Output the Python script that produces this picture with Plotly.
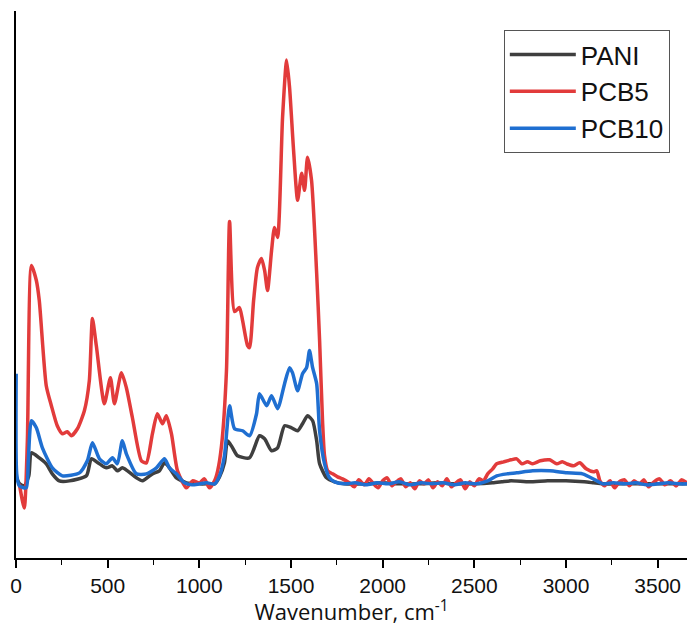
import plotly.graph_objects as go

# ---- data (wavenumber in cm-1, intensity in arbitrary units) ----
pani_x = [2, 20, 45, 70, 84, 127, 165, 198, 236, 291, 384, 411, 455, 493, 526, 553, 580, 608, 657,
          690, 744, 782, 810, 837, 875, 930, 1000, 1050, 1083, 1110, 1137, 1154, 1181, 1208, 1274,
          1328, 1356, 1394, 1427, 1465, 1503, 1536, 1563, 1590, 1618, 1640, 1656, 1694, 1738, 1792,
          1900, 2000, 2100, 2200, 2300, 2400, 2500, 2600, 2650, 2700, 2800, 2900, 3000, 3100, 3150,
          3200, 3300, 3400, 3500, 3600, 3660]
pani_y = [6, 0, -2, 8, 31, 26, 20, 10, 3, 3, 8, 25, 20, 16, 18, 13, 16, 13, 6,
          3, 10, 13, 21, 16, 6, 1, 0, 0, 0, 7, 21, 43, 36, 28, 26,
          48, 45, 33, 36, 58, 56, 53, 60, 68, 63, 43, 20, 6, 2, 0,
          0, 1, 0, 0, 1, 0, 0, 1, 2, 3, 2, 3, 3, 2, 1,
          0, 0, 0, 0, 0, 0]

pcb5_x = [18, 45, 62, 84, 111, 127, 165, 193, 225, 253, 280, 302, 335, 373, 400, 417, 438, 482,
          515, 537, 575, 602, 635, 684, 711, 744, 771, 799, 820, 848, 881, 930, 963, 1001, 1028,
          1055, 1083, 1100, 1121, 1148, 1165, 1192, 1219, 1236, 1263, 1274, 1296, 1317, 1339, 1356,
          1372, 1394, 1410, 1427, 1454, 1476, 1492, 1514, 1536, 1558, 1574, 1590, 1612, 1640, 1656,
          1672, 1683, 1700, 1727, 1754, 1781, 1819, 1845, 1870, 1900, 1925, 1950, 1975, 2000, 2025,
          2050, 2075, 2100, 2125, 2150, 2175, 2200, 2225, 2250, 2275, 2300, 2325, 2350, 2375, 2400,
          2425, 2450, 2475, 2500, 2525, 2550, 2573, 2600, 2622, 2660, 2700, 2731, 2760, 2790, 2818,
          2860, 2911, 2950, 2980, 3004, 3040, 3075, 3110, 3150, 3168, 3185, 3210, 3240, 3265, 3290,
          3320, 3345, 3370, 3400, 3425, 3450, 3480, 3510, 3540, 3570, 3600, 3630, 3660]
pcb5_y = [0, -24, 43, 218, 203, 183, 98, 78, 58, 50, 52, 48, 55, 73, 103, 165, 138, 80,
          106, 80, 111, 96, 66, 23, 21, 50, 70, 60, 68, 50, 13, -4, 3, 1, 5,
          -4, 3, 13, 38, 113, 262, 172, 176, 163, 138, 136, 183, 216, 225, 213,
          193, 233, 256, 246, 366, 423, 396, 333, 283, 310, 293, 326, 303, 210, 143,
          63, 28, 13, 10, 7, 5, 1, -3, 4, -1, 5, 0, -4, 3, 6,
          -2, 2, 5, -3, 1, -5, 3, 0, 4, -4, 2, -2, 5, -3, 1,
          4, -5, 2, -2, 5, 3, 10, 15, 20, 22, 24, 25, 20, 22, 20,
          23, 24, 20, 22, 20, 18, 21, 15, 12, 13, 3, -2, 3, -4, 2,
          4, -2, 3, 0, 4, -3, 2, 5, -1, 3, -2, 4, 1]

pcb10_x = [1, 4, 18, 56, 67, 84, 111, 144, 198, 253, 346, 389, 417, 455, 493, 526, 553, 580, 602,
           657, 711, 766, 810, 837, 875, 919, 960, 1001, 1040, 1083, 1110, 1137, 1165, 1192, 1236,
           1274, 1312, 1328, 1367, 1394, 1427, 1465, 1492, 1508, 1536, 1563, 1585, 1601, 1618, 1640,
           1656, 1683, 1710, 1738, 1792, 1850, 1910, 1970, 2030, 2090, 2150, 2210, 2270, 2330, 2390,
           2450, 2510, 2573, 2622, 2680, 2731, 2818, 2911, 3004, 3090, 3168, 3200, 3260, 3320, 3380,
           3440, 3500, 3560, 3620, 3660]
pcb10_y = [110, 10, -2, -4, 23, 63, 56, 36, 16, 8, 11, 23, 41, 25, 20, 26, 20, 43, 30,
           10, 10, 16, 25, 16, 10, 1, -1, 0, 1, 0, 8, 28, 78, 55, 53,
           48, 70, 90, 78, 88, 75, 100, 116, 111, 93, 110, 116, 133, 116, 100,
           53, 20, 6, 2, 0, 1, -1, 1, 0, 2, -1, 1, 0, 1, -1,
           1, 0, 3, 8, 10, 11, 13, 13, 11, 10, 3, 0, 1, 0, 1,
           -1, 0, 1, 0, 0]

x_ticks = [0, 500, 1000, 1500, 2000, 2500, 3000, 3500]

series = [
    ("PANI", pani_x, pani_y, "#3f3f3f"),
    ("PCB5", pcb5_x, pcb5_y, "#e23b3b"),
    ("PCB10", pcb10_x, pcb10_y, "#1f6fd1"),
]

fig = go.Figure()
for name, xs, ys, col in series:
    fig.add_trace(go.Scatter(x=xs, y=ys, mode="lines", name=name,
                             line=dict(color=col, width=3.5, shape="spline", smoothing=0.6)))

fig.update_layout(
    width=687, height=626,
    margin=dict(l=16, r=0, t=11, b=68),
    paper_bgcolor="white", plot_bgcolor="white",
    showlegend=True,
    legend=dict(
        x=0.727, y=0.965, xanchor="left", yanchor="top",
        bgcolor="white", bordercolor="#555555", borderwidth=1,
        font=dict(family="Liberation Sans, Arial", size=26, color="#111111"),
        itemwidth=66, tracegroupgap=0,
    ),
)

fig.update_xaxes(
    range=[0, 3660], tickvals=x_ticks,
    ticks="outside", ticklen=8, tickwidth=1.5, tickcolor="black",
    showline=True, linecolor="black", linewidth=2,
    showgrid=False, zeroline=False,
    minor=dict(ticks="outside", ticklen=5, tickwidth=1.2, tickcolor="black", dtick=250, showgrid=False),
    tickfont=dict(family="Liberation Sans, Arial", size=21, color="#111111"),
    title=dict(text="Wavenumber, cm<sup>-1</sup>", standoff=9,
               font=dict(family="Open Sans, Noto Sans", size=22, color="#111111")),
)
fig.update_yaxes(
    range=[-74, 472], showticklabels=False, ticks="",
    showline=True, linecolor="black", linewidth=2,
    showgrid=False, zeroline=False,
)

fig.write_html("out.html")
